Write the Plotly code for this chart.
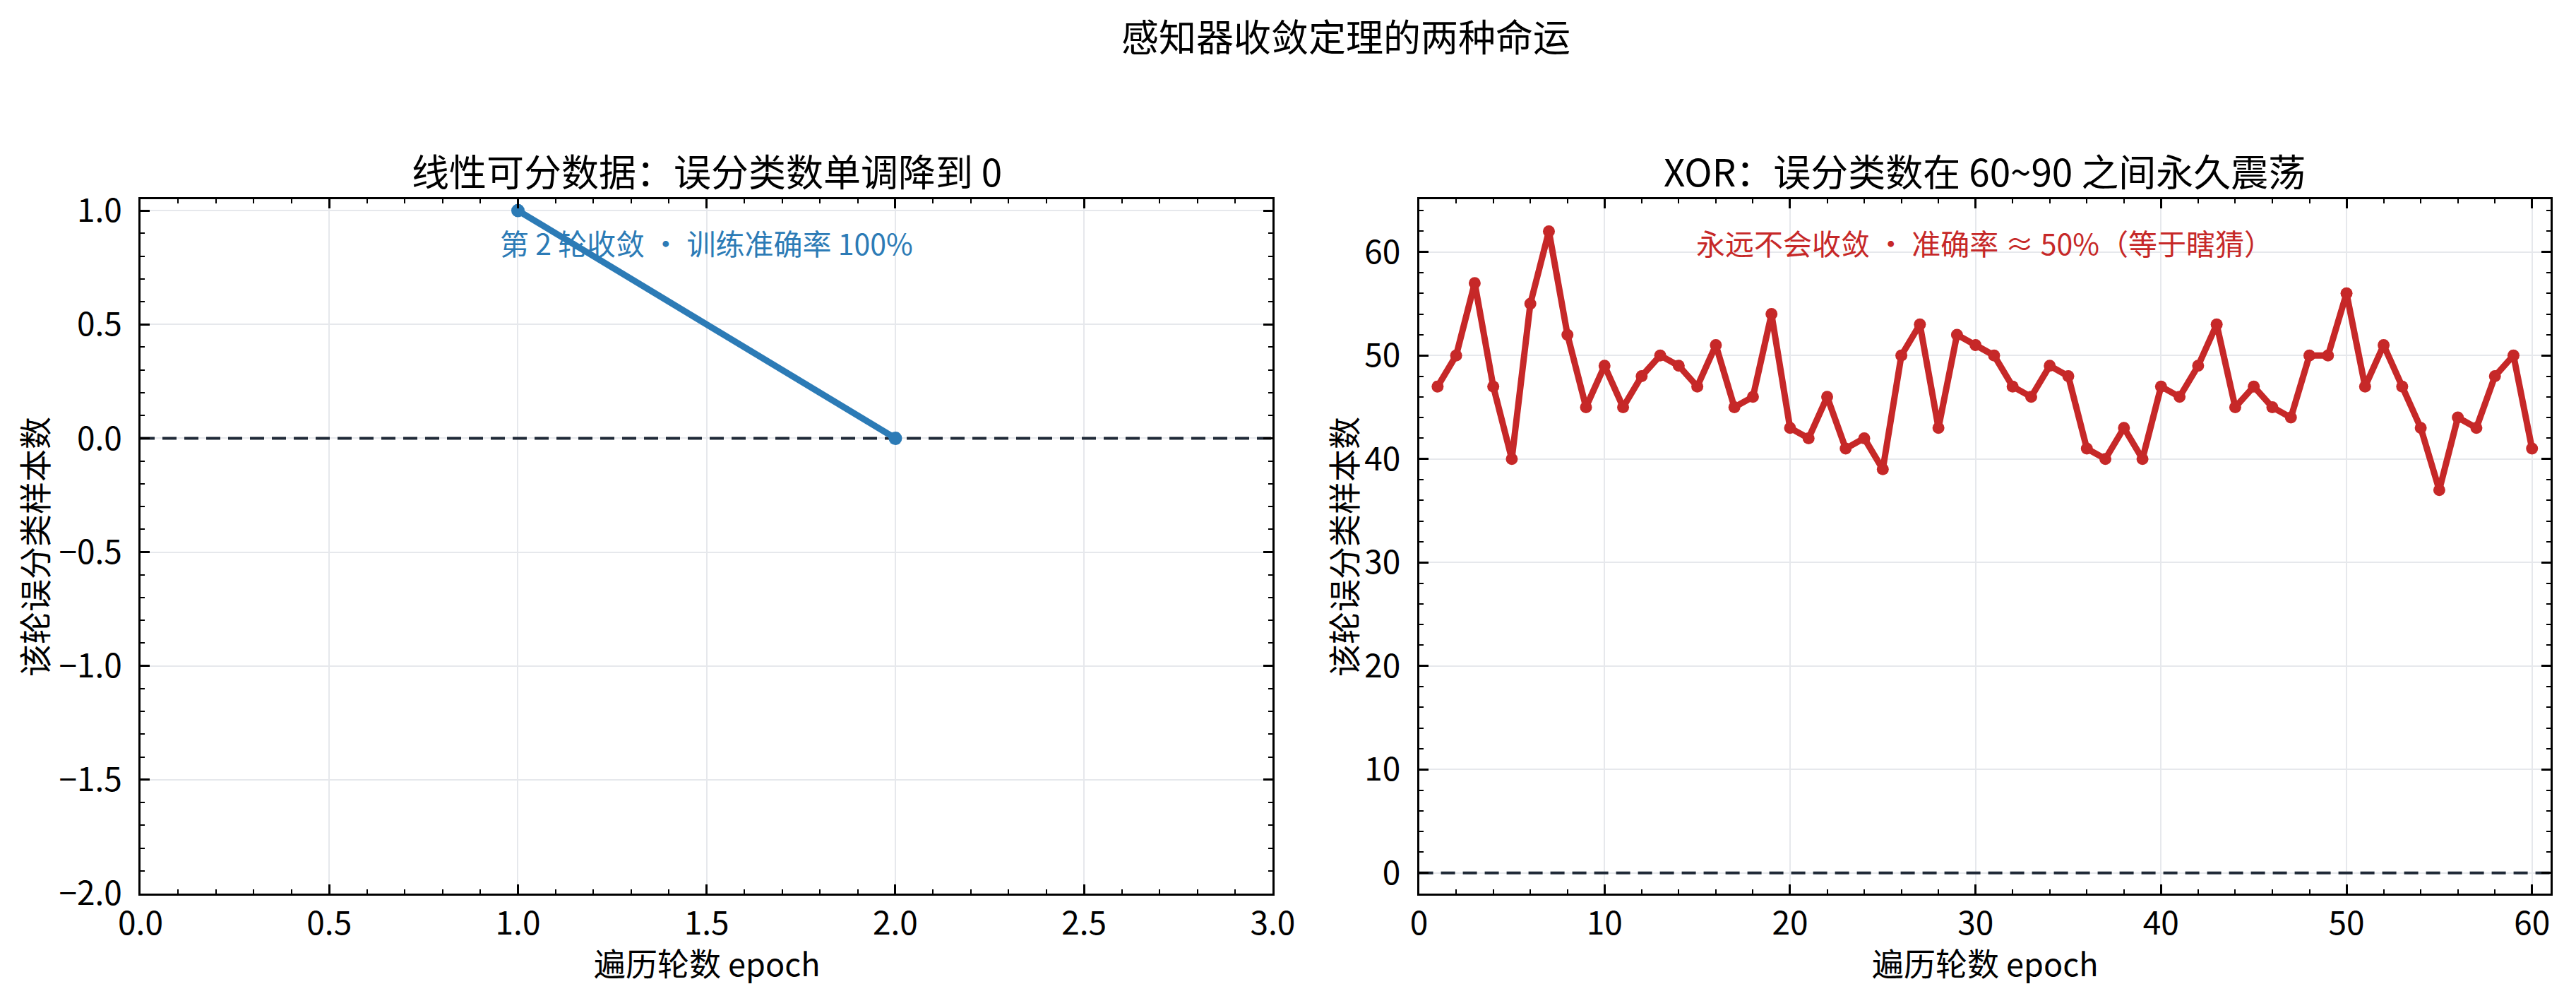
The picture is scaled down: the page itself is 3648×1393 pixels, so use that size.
import plotly.graph_objects as go
from plotly.subplots import make_subplots

# left panel: linearly separable data
sep_epochs = [1, 2]
sep_errors = [1, 0]

# right panel: XOR, misclassified count per epoch
xor_errors = [47, 50, 57, 47, 40, 55, 62, 52, 45, 49,
              45, 48, 50, 49, 47, 51, 45, 46, 54, 43,
              42, 46, 41, 42, 39, 50, 53, 43, 52, 51,
              50, 47, 46, 49, 48, 41, 40, 43, 40, 47,
              46, 49, 53, 45, 47, 45, 44, 50, 50, 56,
              47, 51, 47, 43, 37, 44, 43, 48, 50, 41]
xor_epochs = list(range(1, len(xor_errors) + 1))

suptitle = "感知器收敛定理的两种命运"
left_title = "线性可分数据：误分类数单调降到 0"
right_title = "XOR：误分类数在 60~90 之间永久震荡"
left_note = "第 2 轮收敛 · 训练准确率 100%"
right_note = "永远不会收敛 · 准确率 ≈ 50%（等于瞎猜）"
x_label = "遍历轮数 epoch"
y_label = "该轮误分类样本数"

left_xrange = [0, 3]
left_yrange = [-2, 1.05]
right_xrange = [0, 61]
right_yrange = [-2, 65.1]

BLUE = "#2c7bb6"
RED = "#c62828"
FONT = "Noto Sans CJK SC"

fig = make_subplots(rows=1, cols=2)

fig.add_trace(go.Scatter(x=sep_epochs, y=sep_errors, mode="lines+markers",
                         line=dict(color=BLUE, width=9),
                         marker=dict(color=BLUE, size=19),
                         showlegend=False), row=1, col=1)
fig.add_trace(go.Scatter(x=xor_epochs, y=xor_errors, mode="lines+markers",
                         line=dict(color=RED, width=9),
                         marker=dict(color=RED, size=17),
                         showlegend=False), row=1, col=2)

# dashed zero line in both panels
for xr, yr, rng in [("x", "y", left_xrange), ("x2", "y2", right_xrange)]:
    fig.add_shape(type="line", xref=xr, yref=yr, x0=rng[0], x1=rng[1], y0=0, y1=0,
                  line=dict(color="#1f2937", width=4, dash="20px,11px"), layer="between")

axis_common = dict(showline=True, linecolor="black", linewidth=3, mirror="allticks",
                   ticks="inside", ticklen=13, tickwidth=2.5, tickcolor="black",
                   showgrid=True, gridcolor="#e6e8ec", gridwidth=2, zeroline=False,
                   tickfont=dict(size=46, color="black", family=FONT))

fig.update_xaxes(axis_common, ticklabelstandoff=0)
fig.update_yaxes(axis_common, ticklabelstandoff=14)

minor_left = dict(ticks="inside", ticklen=6, tickwidth=2, tickcolor="black", dtick=0.1,
                  showgrid=False)
minor_right = dict(ticks="inside", ticklen=6, tickwidth=2, tickcolor="black", dtick=2,
                   showgrid=False)

fig.update_xaxes(domain=[0, 0.4698], range=left_xrange, dtick=0.5, tick0=0, tickformat=".1f",
                 minor=minor_left, row=1, col=1)
fig.update_yaxes(range=left_yrange, dtick=0.5, tick0=0, tickformat=".1f",
                 minor=minor_left, row=1, col=1)
fig.update_xaxes(domain=[0.5305, 1], range=right_xrange, dtick=10, tick0=0,
                 minor=minor_right, row=1, col=2)
fig.update_yaxes(range=right_yrange, dtick=10, tick0=0,
                 minor=minor_right, row=1, col=2)

# titles and labels as annotations to pin their positions
notes = [
    dict(text=suptitle, x=0.5, y=1.236, size=53),
    dict(text=left_title, x=0.2349, y=1.0417, size=53),
    dict(text=right_title, x=0.7652, y=1.0417, size=53),
    dict(text=x_label, x=0.2349, y=-0.0987, size=45),
    dict(text=x_label, x=0.7652, y=-0.0987, size=45),
]
for n in notes:
    fig.add_annotation(text=n["text"], x=n["x"], y=n["y"], xref="paper", yref="paper",
                       showarrow=False, xanchor="center", yanchor="middle",
                       font=dict(size=n["size"], color="black", family=FONT))

for xpos in [-0.0447, 0.4985]:
    fig.add_annotation(text=y_label, x=xpos, y=0.5, xref="paper", yref="paper",
                       showarrow=False, textangle=-90, xanchor="center", yanchor="middle",
                       font=dict(size=46, color="black", family=FONT))

fig.add_annotation(text=left_note, x=0.5, y=0.97, xref="x domain", yref="y domain",
                   showarrow=False, xanchor="center", yanchor="top",
                   font=dict(size=41, color=BLUE, family=FONT))
fig.add_annotation(text=right_note, x=0.5, y=0.97, xref="x2 domain", yref="y2 domain",
                   showarrow=False, xanchor="center", yanchor="top",
                   font=dict(size=41, color=RED, family=FONT))

fig.update_layout(width=3648, height=1393,
                  margin=dict(l=191, r=15, t=274, b=136),
                  paper_bgcolor="white", plot_bgcolor="white",
                  font=dict(family=FONT, color="black"))

fig.write_html("out.html")
